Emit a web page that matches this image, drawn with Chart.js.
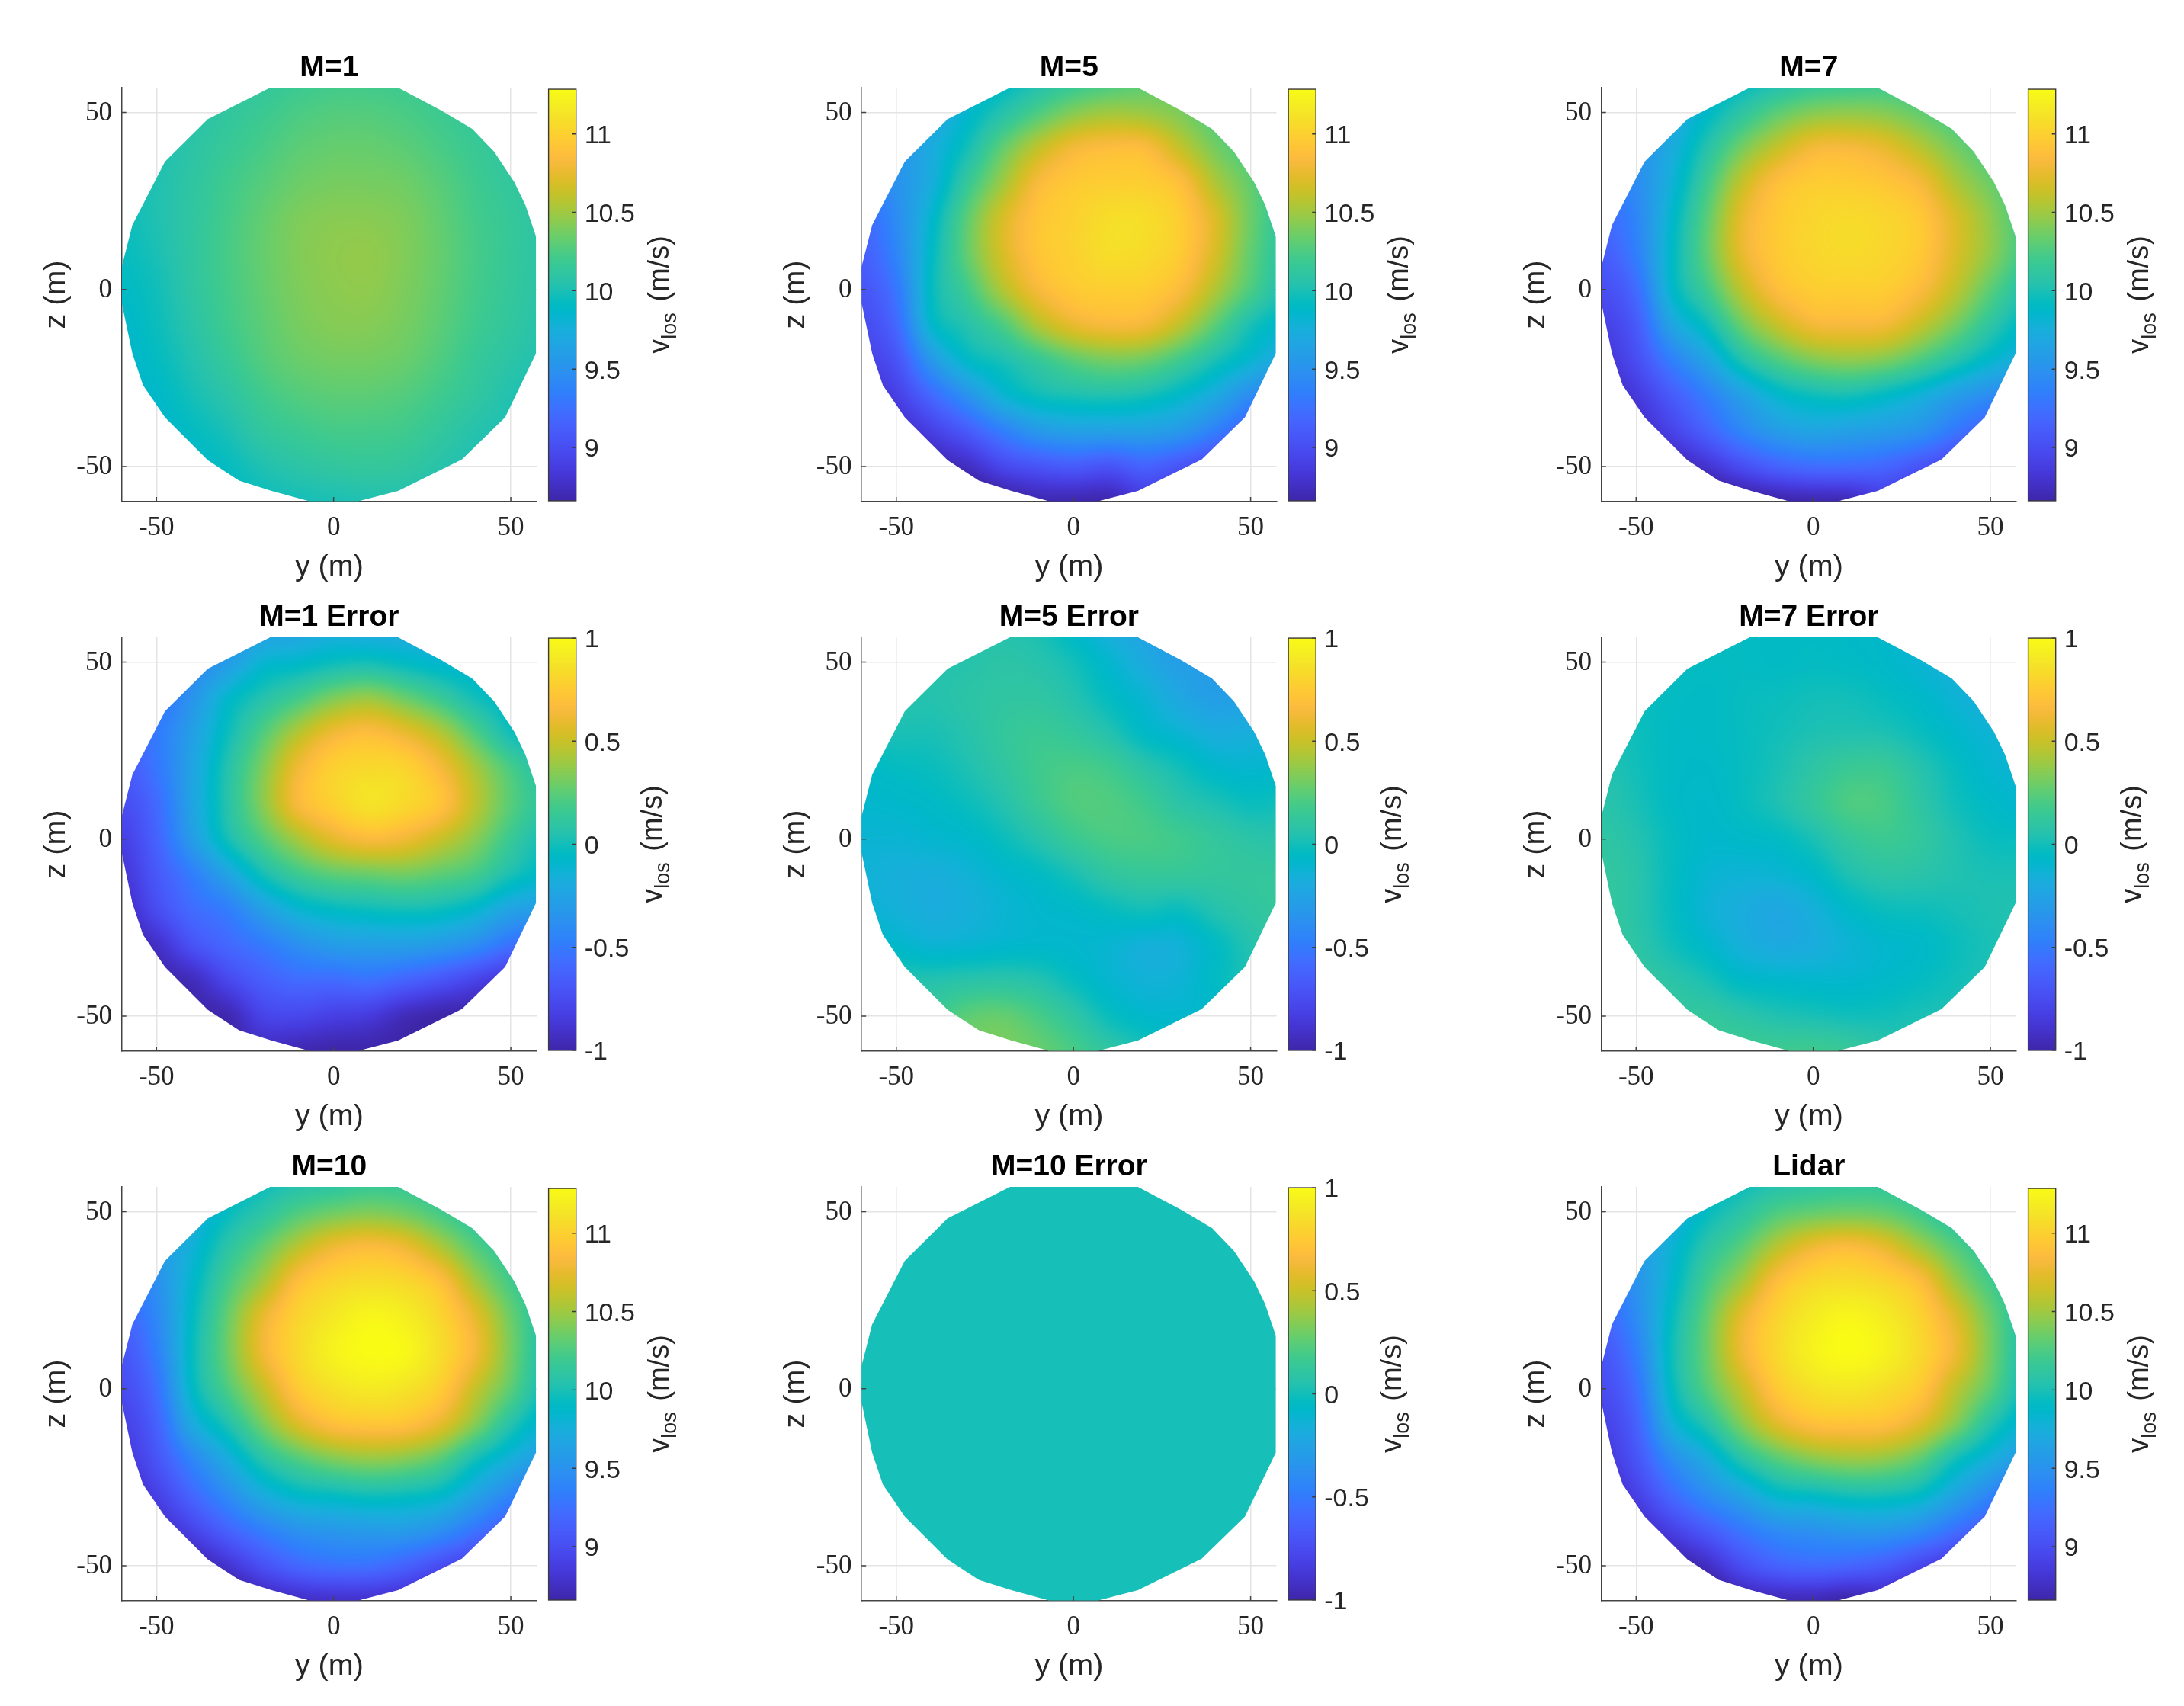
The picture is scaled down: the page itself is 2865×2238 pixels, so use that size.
<!DOCTYPE html>
<html>
<head>
<meta charset="utf-8">
<script src="https://cdn.jsdelivr.net/npm/chart.js@4"></script>
<style>
  html, body { margin: 0; background: #fff; }
  #page { position: relative; width: 2865px; height: 2238px; overflow: hidden; }
  canvas { position: absolute; }
</style>
</head>
<body>
<div id="page"></div>
<script>
// measurement grid, metres
const gridY = [-60, -50, -40, -30, -20, -10, 0, 10, 20, 30, 40, 50, 60];
const gridZ = [60, 50, 40, 30, 20, 10, 0, -10, -20, -30, -40, -50, -60];

// outline of the scanned disc
const rimY = [-17.9, -35.5, -47.6, -56.8, -59.8, -59.8, -56.8, -53.8, -47.6, -35.5, -26.7, -17.5, -6.9, 7, 18.2, 36.2, 48.4, 57.1, 57.1, 54.1, 51, 45.3, 39.1, 30.3, 18.2];
const rimZ = [57, 48.1, 36.1, 18.2, 6.4, -3.8, -18.1, -27, -36.1, -48.2, -54, -56.9, -59.8, -59.8, -56.9, -48, -36.1, -18.1, 15, 23.9, 30.3, 38.9, 45.4, 50.6, 57];

const tickValues = [-50, 0, 50];
const speedTicks = [9, 9.5, 10, 10.5, 11];
const errorTicks = [-1, -0.5, 0, 0.5, 1];
const speedLimits = [8.66, 11.285];
const errorLimits = [-1, 1];

const speedM1 = [
  [9.95,9.98,10.02,10.07,10.12,10.17,10.2,10.2,10.18,10.13,10.08,10.03,10.0],
  [9.95,10.0,10.05,10.12,10.18,10.24,10.27,10.27,10.24,10.19,10.13,10.07,10.02],
  [9.95,10.0,10.08,10.16,10.23,10.3,10.33,10.33,10.3,10.24,10.17,10.1,10.05],
  [9.95,10.02,10.1,10.2,10.28,10.35,10.38,10.38,10.36,10.29,10.2,10.13,10.07],
  [9.95,10.02,10.11,10.22,10.32,10.4,10.43,10.43,10.4,10.32,10.22,10.15,10.08],
  [9.93,10.0,10.11,10.23,10.33,10.41,10.45,10.46,10.41,10.33,10.23,10.15,10.08],
  [9.9,9.97,10.1,10.22,10.32,10.4,10.44,10.45,10.4,10.32,10.22,10.14,10.07],
  [9.87,9.95,10.07,10.2,10.3,10.38,10.42,10.42,10.38,10.3,10.2,10.12,10.05],
  [9.85,9.92,10.03,10.15,10.27,10.34,10.37,10.37,10.34,10.26,10.16,10.08,10.02],
  [9.83,9.88,9.98,10.08,10.2,10.27,10.3,10.3,10.27,10.2,10.12,10.03,9.98],
  [9.82,9.85,9.92,10.0,10.12,10.18,10.22,10.22,10.2,10.13,10.05,10.0,9.95],
  [9.82,9.85,9.88,9.93,10.02,10.08,10.12,10.14,10.12,10.06,10.0,9.96,9.92],
  [9.82,9.85,9.87,9.9,9.95,9.98,10.0,10.02,10.02,9.98,9.95,9.93,9.9]
];
const speedM5 = [
  [9.45,9.55,9.65,9.78,9.87,10.0,10.12,10.2,10.28,10.3,10.2,10.15,10.1],
  [9.4,9.5,9.65,9.85,10.05,10.25,10.42,10.5,10.48,10.4,10.25,10.18,10.1],
  [9.35,9.5,9.72,9.98,10.32,10.6,10.8,10.86,10.85,10.62,10.38,10.22,10.1],
  [9.3,9.5,9.75,10.15,10.5,10.83,10.95,10.98,10.98,10.88,10.55,10.32,10.1],
  [9.2,9.45,9.85,10.3,10.68,10.92,11.0,11.08,11.08,10.97,10.7,10.35,10.1],
  [9.12,9.4,9.9,10.32,10.68,10.92,11.0,11.08,11.06,10.96,10.68,10.32,10.08],
  [9.05,9.3,9.92,10.2,10.55,10.82,10.95,10.98,10.97,10.85,10.55,10.25,10.0],
  [8.98,9.2,9.85,10.05,10.25,10.55,10.75,10.82,10.8,10.6,10.3,10.0,9.85],
  [8.9,9.05,9.55,9.88,10.0,10.15,10.3,10.38,10.35,10.2,10.0,9.82,9.65],
  [8.75,8.9,9.2,9.5,9.8,9.95,10.0,10.02,9.98,9.87,9.7,9.45,9.3],
  [8.6,8.72,8.9,9.1,9.35,9.55,9.62,9.62,9.62,9.55,9.35,9.1,8.9],
  [8.5,8.55,8.65,8.75,8.95,9.05,9.1,9.05,9.15,9.05,8.9,8.7,8.5],
  [8.4,8.4,8.45,8.5,8.6,8.68,8.68,8.68,8.85,8.8,8.65,8.5,8.35]
];
const speedM7 = [
  [9.45,9.55,9.65,9.78,9.88,9.98,10.08,10.12,10.15,10.12,10.08,10.02,9.98],
  [9.4,9.5,9.65,9.88,10.1,10.3,10.42,10.45,10.42,10.32,10.2,10.1,10.02],
  [9.35,9.48,9.72,10.05,10.38,10.62,10.8,10.82,10.75,10.58,10.38,10.22,10.1],
  [9.3,9.45,9.78,10.2,10.62,10.88,10.97,10.97,10.93,10.82,10.55,10.35,10.15],
  [9.2,9.4,9.85,10.3,10.75,10.95,11.03,11.06,11.03,10.95,10.7,10.45,10.22],
  [9.1,9.35,9.88,10.32,10.75,10.95,11.03,11.06,11.03,10.95,10.7,10.45,10.2],
  [9.0,9.22,9.85,10.2,10.6,10.87,10.97,10.98,10.97,10.85,10.6,10.3,10.05],
  [8.9,9.1,9.65,9.95,10.35,10.62,10.8,10.82,10.8,10.62,10.38,10.1,9.88],
  [8.8,9.0,9.35,9.65,10.02,10.25,10.4,10.45,10.4,10.25,10.05,9.85,9.7],
  [8.7,8.85,9.1,9.35,9.62,9.85,9.95,9.98,9.9,9.78,9.6,9.45,9.35],
  [8.6,8.72,8.92,9.15,9.4,9.58,9.65,9.62,9.58,9.5,9.3,9.1,8.95],
  [8.5,8.55,8.65,8.8,9.0,9.15,9.22,9.22,9.18,9.05,8.9,8.75,8.6],
  [8.4,8.4,8.45,8.5,8.58,8.65,8.68,8.7,8.85,8.75,8.65,8.5,8.35]
];
const speedM10 = [
  [9.4,9.5,9.65,9.8,9.92,10.0,10.05,10.12,10.12,10.08,10.02,9.95,9.9],
  [9.4,9.55,9.7,9.92,10.08,10.25,10.35,10.4,10.35,10.22,10.08,10.0,9.95],
  [9.3,9.55,9.78,10.08,10.32,10.58,10.78,10.85,10.78,10.55,10.28,10.1,10.0],
  [9.25,9.48,9.85,10.22,10.52,10.88,11.03,11.08,11.05,10.9,10.52,10.22,10.05],
  [9.15,9.42,9.9,10.33,10.75,11.02,11.16,11.25,11.2,11.04,10.75,10.35,10.05],
  [9.05,9.35,9.92,10.35,10.78,11.05,11.22,11.28,11.26,11.08,10.8,10.38,10.02],
  [8.98,9.25,9.88,10.25,10.6,10.95,11.1,11.16,11.12,10.98,10.62,10.3,9.95],
  [8.9,9.15,9.7,10.02,10.38,10.7,10.88,10.92,10.9,10.74,10.42,10.05,9.8],
  [8.82,9.05,9.4,9.72,10.05,10.26,10.4,10.46,10.42,10.28,9.98,9.75,9.55],
  [8.7,8.9,9.18,9.45,9.72,9.88,9.93,9.97,9.95,9.88,9.65,9.4,9.15],
  [8.6,8.72,8.92,9.15,9.35,9.5,9.55,9.58,9.58,9.48,9.28,9.05,8.8],
  [8.5,8.5,8.62,8.8,9.02,9.18,9.25,9.25,9.15,9.0,8.85,8.65,8.5],
  [8.4,8.4,8.42,8.52,8.68,8.75,8.78,8.78,8.75,8.65,8.52,8.4,8.3]
];
const speedLidar = [
  [9.4,9.5,9.65,9.8,9.92,10.0,10.05,10.1,10.1,10.05,10.0,9.95,9.9],
  [9.4,9.55,9.7,9.92,10.08,10.25,10.32,10.35,10.32,10.2,10.05,10.0,9.95],
  [9.3,9.55,9.8,10.08,10.3,10.58,10.78,10.85,10.75,10.52,10.28,10.1,10.0],
  [9.25,9.5,9.85,10.22,10.52,10.88,11.05,11.08,11.03,10.88,10.5,10.22,10.05],
  [9.15,9.45,9.92,10.33,10.75,11.02,11.18,11.25,11.18,11.02,10.72,10.35,10.05],
  [9.05,9.35,9.95,10.35,10.78,11.05,11.22,11.28,11.22,11.05,10.78,10.38,10.02],
  [8.98,9.25,9.9,10.28,10.62,10.95,11.1,11.14,11.08,10.95,10.6,10.3,9.95],
  [8.9,9.15,9.75,10.05,10.42,10.72,10.88,10.9,10.88,10.72,10.42,10.05,9.8],
  [8.82,9.05,9.45,9.72,10.05,10.28,10.42,10.48,10.45,10.3,9.98,9.75,9.55],
  [8.7,8.9,9.2,9.45,9.65,9.87,9.92,9.98,9.98,9.9,9.65,9.4,9.15],
  [8.6,8.7,8.9,9.1,9.3,9.45,9.5,9.55,9.55,9.45,9.25,9.05,8.8],
  [8.5,8.5,8.6,8.75,9.0,9.15,9.2,9.17,9.1,8.95,8.8,8.65,8.5],
  [8.4,8.4,8.4,8.5,8.65,8.7,8.7,8.65,8.7,8.6,8.5,8.4,8.3]
];
const errorM1 = [
  [-.6,-.55,-.5,-.42,-.3,-.25,-.2,-.22,-.22,-.2,-.2,-.2,-.2],
  [-.6,-.55,-.45,-.3,-.12,-.08,-.02,.0,-.05,-.1,-.12,-.15,-.2],
  [-.65,-.55,-.35,-.1,.05,.18,.32,.38,.28,.15,.0,-.08,-.12],
  [-.65,-.5,-.28,-.02,.22,.45,.62,.68,.6,.45,.22,.0,-.08],
  [-.68,-.52,-.25,.05,.33,.62,.78,.82,.8,.65,.42,.2,.05],
  [-.75,-.58,-.25,.06,.35,.65,.78,.87,.82,.72,.47,.24,.1],
  [-.82,-.62,-.3,.0,.22,.42,.58,.66,.62,.5,.35,.15,.0],
  [-.88,-.68,-.48,-.25,.0,.16,.25,.28,.3,.25,.18,.02,-.08],
  [-.95,-.75,-.58,-.48,-.28,-.12,-.05,-.02,.0,-.02,-.1,-.25,-.3],
  [-1,-.92,-.72,-.6,-.5,-.38,-.3,-.28,-.28,-.32,-.4,-.55,-.65],
  [-1,-1,-.95,-.78,-.65,-.58,-.58,-.55,-.62,-.7,-.8,-.9,-1],
  [-1,-1,-1,-.98,-.8,-.78,-.82,-.85,-.95,-1,-1,-1,-1],
  [-1,-1,-1,-1,-.95,-.98,-1,-1,-1,-1,-1,-1,-1]
];
const errorM5 = [
  [.05,.05,.05,.05,.05,.02,-.08,-.18,-.25,-.3,-.3,-.3,-.3],
  [.05,.05,.05,.06,.08,.06,.0,-.1,-.2,-.28,-.3,-.3,-.25],
  [.05,.05,.05,.08,.1,.1,.05,-.04,-.12,-.22,-.28,-.25,-.2],
  [.0,.02,.02,.06,.12,.15,.12,.05,-.06,-.12,-.18,-.17,-.13],
  [-.06,-.04,-.02,.03,.1,.17,.2,.17,.08,.0,-.08,-.1,-.08],
  [-.09,-.08,-.06,-.02,.05,.15,.22,.22,.17,.08,.03,-.02,.0],
  [-.12,-.12,-.1,-.08,-.02,.06,.15,.2,.2,.17,.12,.08,.06],
  [-.14,-.16,-.17,-.14,-.09,-.05,.02,.1,.13,.13,.12,.12,.12],
  [-.12,-.15,-.18,-.16,-.12,-.09,-.07,-.03,.0,-.02,.05,.1,.13],
  [-.03,-.08,-.12,-.11,-.09,-.08,-.09,-.11,-.15,-.14,-.05,.05,.1],
  [.05,.05,.05,.07,.08,.05,-.03,-.1,-.14,-.13,-.05,.02,.05],
  [.1,.12,.15,.25,.27,.2,.1,-.02,-.08,-.09,-.08,-.05,.0],
  [.15,.2,.25,.3,.32,.28,.2,.1,.02,-.05,-.08,-.08,-.05]
];
const errorM7 = [
  [-.02,-.02,-.03,-.03,-.04,-.05,-.05,-.06,-.08,-.12,-.15,-.15,-.15],
  [-.02,-.02,-.03,-.04,-.04,-.05,-.04,-.05,-.07,-.12,-.16,-.17,-.16],
  [.0,-.02,-.04,-.05,-.03,-.02,.0,.0,-.03,-.07,-.13,-.17,-.16],
  [.02,-.01,-.05,-.05,-.03,.0,.03,.04,.03,-.02,-.08,-.13,-.14],
  [.05,.0,-.05,-.06,-.03,.02,.09,.15,.15,.06,-.03,-.1,-.12],
  [.07,.02,-.05,-.07,-.03,.03,.12,.21,.2,.1,.0,-.06,-.1],
  [.1,.05,-.03,-.08,-.07,-.05,.02,.12,.16,.12,.04,-.02,-.03],
  [.12,.07,-.03,-.11,-.13,-.12,-.07,.03,.08,.07,.04,.02,.02],
  [.13,.07,-.03,-.13,-.18,-.22,-.16,-.07,-.02,-.01,.01,.03,.04],
  [.15,.09,.0,-.08,-.16,-.2,-.18,-.13,-.09,-.07,-.02,.02,.04],
  [.15,.12,.08,.02,-.06,-.08,-.09,-.09,-.07,-.04,.0,.03,.04],
  [.15,.14,.12,.12,.08,.04,.02,.0,.0,.02,.03,.04,.04],
  [.15,.15,.15,.17,.17,.17,.17,.14,.08,.05,.03,.03,.03]
];
const errorM10 = [
  [.01,.01,.01,.01,.01,.01,.01,.01,.01,.01,.01,.01,.01],
  [.01,.01,.01,.01,.01,.01,.01,.01,.01,.01,.01,.01,.01],
  [.01,.01,.01,.01,.01,.01,.01,.01,.01,.01,.01,.01,.01],
  [.01,.01,.01,.01,.01,.01,.01,.01,.01,.01,.01,.01,.01],
  [.01,.01,.01,.01,.01,.01,.01,.01,.01,.01,.01,.01,.01],
  [.01,.01,.01,.01,.01,.01,.01,.01,.01,.01,.01,.01,.01],
  [.01,.01,.01,.01,.01,.01,.01,.01,.01,.01,.01,.01,.01],
  [.01,.01,.01,.01,.01,.01,.01,.01,.01,.01,.01,.01,.01],
  [.01,.01,.01,.01,.01,.01,.01,.01,.01,.01,.01,.01,.01],
  [.01,.01,.01,.01,.01,.01,.01,.01,.01,.01,.01,.01,.01],
  [.01,.01,.01,.01,.01,.01,.01,.01,.01,.01,.01,.01,.01],
  [.01,.01,.01,.01,.01,.01,.01,.01,.01,.01,.01,.01,.01],
  [.01,.01,.01,.01,.01,.01,.01,.01,.01,.01,.01,.01,.01]
];

const panelTitles = ['M=1', 'M=5', 'M=7', 'M=1 Error', 'M=5 Error', 'M=7 Error', 'M=10', 'M=10 Error', 'Lidar'];
const panelGrids = [speedM1, speedM5, speedM7, errorM1, errorM5, errorM7, speedM10, errorM10, speedLidar];
const panelIsError = [false, false, false, true, true, true, false, true, false];

// parula
const parula = [
  [.2422,.1504,.6603],[.2504,.165,.7076],[.2578,.1818,.7511],[.2647,.1978,.7952],[.2706,.2147,.8364],[.2751,.2342,.871],[.2783,.2559,.8991],[.2803,.2782,.9221],
  [.2813,.3006,.9414],[.281,.3228,.9579],[.2795,.3447,.9717],[.276,.3667,.9829],[.2699,.3892,.9906],[.2602,.4123,.9952],[.244,.4358,.9988],[.2206,.4603,.9973],
  [.1963,.4847,.9892],[.1834,.5074,.9798],[.1786,.5289,.9682],[.1764,.5499,.952],[.1687,.5703,.9359],[.154,.5902,.9218],[.146,.6091,.9079],[.138,.6276,.8973],
  [.1248,.6459,.8883],[.1113,.6635,.8763],[.0952,.6798,.8598],[.0689,.6948,.8394],[.0297,.7082,.8163],[.0036,.7203,.7917],[.0067,.7312,.766],[.0433,.7411,.7394],
  [.0964,.75,.712],[.1408,.7584,.6842],[.1717,.767,.6554],[.1938,.7758,.6251],[.2161,.7843,.5923],[.247,.7918,.5567],[.2906,.7973,.5188],[.3406,.8008,.4789],
  [.3909,.8029,.4354],[.4456,.8024,.3909],[.5044,.7993,.348],[.5616,.7942,.3045],[.6174,.7876,.2612],[.672,.7793,.2227],[.7242,.7698,.191],[.7738,.7598,.1646],
  [.8203,.7498,.1535],[.8634,.7406,.1596],[.9035,.733,.1774],[.9393,.7288,.21],[.9728,.7298,.2394],[.9956,.7434,.2371],[.997,.7659,.2199],[.9952,.7893,.2028],
  [.9892,.8136,.1885],[.9786,.8386,.1766],[.9676,.8639,.1643],[.961,.889,.1537],[.9597,.9135,.1423],[.9628,.9373,.1265],[.9691,.9606,.1064],[.9769,.9839,.0805]
];

function colorAt(t) {
  t = Math.min(1, Math.max(0, t)) * 63;
  const i = Math.min(62, Math.floor(t)), f = t - i;
  const a = parula[i], b = parula[i + 1];
  return [0, 1, 2].map(k => 255 * (a[k] + (b[k] - a[k]) * f));
}

function catmull(a, b, c, d, t) {
  return b + 0.5 * t * (c - a + t * (2 * a - 5 * b + 4 * c - d + t * (3 * (b - c) + d - a)));
}

// smooth reading between the grid values, like shading interp
function sampleGrid(grid, y, z) {
  const n = gridY.length;
  const u = Math.min(n - 1.001, Math.max(0, (y - gridY[0]) / (gridY[1] - gridY[0])));
  const w = Math.min(n - 1.001, Math.max(0, (z - gridZ[0]) / (gridZ[1] - gridZ[0])));
  const j = Math.floor(u), i = Math.floor(w);
  const at = (r, c) => grid[Math.min(n - 1, Math.max(0, r))][Math.min(n - 1, Math.max(0, c))];
  const rows = [-1, 0, 1, 2].map(r =>
    catmull(at(i + r, j - 1), at(i + r, j), at(i + r, j + 1), at(i + r, j + 2), u - j));
  return catmull(rows[0], rows[1], rows[2], rows[3], w - i);
}

const serif = '"Liberation Serif", serif';
const sans = '"Liberation Sans", Arial, sans-serif';
const inkColor = '#262626';
const axisColor = '#444444';

const heatPlugin = {
  id: 'heat',
  beforeDatasetsDraw(chart, args, opts) {
    const { ctx, chartArea: area, scales: { x, y } } = chart;
    const w = Math.ceil(area.width), h = Math.ceil(area.height);
    const off = document.createElement('canvas');
    off.width = w; off.height = h;
    const octx = off.getContext('2d');
    const img = octx.createImageData(w, h);
    const [lo, hi] = opts.limits;
    for (let py = 0; py < h; py++) {
      const zv = y.getValueForPixel(area.top + py + 0.5);
      for (let px = 0; px < w; px++) {
        const yv = x.getValueForPixel(area.left + px + 0.5);
        const c = colorAt((sampleGrid(opts.grid, yv, zv) - lo) / (hi - lo));
        const o = (py * w + px) * 4;
        img.data[o] = c[0]; img.data[o + 1] = c[1]; img.data[o + 2] = c[2]; img.data[o + 3] = 255;
      }
    }
    octx.putImageData(img, 0, 0);
    ctx.save();
    ctx.beginPath();
    rimY.forEach((v, i) => {
      const px = x.getPixelForValue(v), py = y.getPixelForValue(rimZ[i]);
      if (i === 0) ctx.moveTo(px, py); else ctx.lineTo(px, py);
    });
    ctx.closePath();
    ctx.clip();
    ctx.drawImage(off, area.left, area.top);
    ctx.restore();
  },
  afterDatasetsDraw(chart, args, opts) {
    const { ctx, chartArea: area, scales: { x, y, cb } } = chart;
    ctx.save();
    // inward ticks on the main axes
    ctx.strokeStyle = axisColor;
    ctx.lineWidth = 1.5;
    ctx.beginPath();
    tickValues.forEach(v => {
      const px = x.getPixelForValue(v), py = y.getPixelForValue(v);
      ctx.moveTo(px, area.bottom); ctx.lineTo(px, area.bottom - 6);
      ctx.moveTo(area.left, py); ctx.lineTo(area.left + 6, py);
    });
    ctx.stroke();

    // colorbar
    const [lo, hi] = opts.limits;
    const barL = area.right + 15.6, barR = area.right + 51.7;
    const top = cb.getPixelForValue(hi), bottom = cb.getPixelForValue(lo);
    for (let py = Math.floor(top); py < bottom; py++) {
      const c = colorAt((cb.getValueForPixel(py + 0.5) - lo) / (hi - lo));
      ctx.fillStyle = `rgb(${c[0]},${c[1]},${c[2]})`;
      ctx.fillRect(barL, py, barR - barL, 1);
    }
    ctx.strokeStyle = '#3a3a3a';
    ctx.lineWidth = 1.4;
    ctx.strokeRect(barL, top, barR - barL, bottom - top);
    ctx.beginPath();
    cb.ticks.forEach(t => {
      const py = cb.getPixelForValue(t.value);
      ctx.moveTo(barR, py); ctx.lineTo(barR - 5, py);
    });
    ctx.stroke();

    // colorbar label with its subscript
    ctx.translate(opts.labelX, (area.top + area.bottom) / 2);
    ctx.rotate(-Math.PI / 2);
    ctx.fillStyle = inkColor;
    ctx.textBaseline = 'alphabetic';
    ctx.textAlign = 'left';
    const big = '38px ' + sans, small = '27px ' + sans;
    ctx.font = big;
    const wV = ctx.measureText('v').width, wU = ctx.measureText(' (m/s)').width;
    ctx.font = small;
    const wS = ctx.measureText('los').width;
    let tx = -(wV + wS + wU) / 2 - 2;
    ctx.font = big;
    ctx.fillText('v', tx, 0);
    tx += wV;
    ctx.font = small;
    ctx.fillText('los', tx, 10);
    tx += wS;
    ctx.font = big;
    ctx.fillText(' (m/s)', tx + 4, 0);
    ctx.restore();
  }
};

const page = document.getElementById('page');
const colLeft = [0, 970, 1941];
const rowTop = [0, 721, 1442];
const colShift = [159.7, 160.2, 159.7];

panelTitles.forEach((title, n) => {
  const col = n % 3, row = Math.floor(n / 3);
  const grid = panelGrids[n];
  const isErr = panelIsError[n];
  const limits = isErr ? errorLimits : speedLimits;
  const ticks = isErr ? errorTicks : speedTicks;
  const canvas = document.createElement('canvas');
  canvas.width = 950; canvas.height = 770;
  canvas.style.left = colLeft[col] + 'px';
  canvas.style.top = rowTop[row] + 'px';
  page.appendChild(canvas);

  const points = [];
  gridZ.forEach((z, i) => gridY.forEach((y, j) => points.push({ x: y, y: z, v: grid[i][j] })));

  new Chart(canvas, {
    type: 'scatter',
    plugins: [heatPlugin],
    data: { datasets: [{ data: points, pointRadius: 0, pointHitRadius: 0 }] },
    options: {
      responsive: false,
      animation: false,
      events: [],
      layout: { padding: 0 },
      plugins: {
        legend: { display: false },
        tooltip: { enabled: false },
        title: {
          display: true,
          text: title,
          fullSize: false,
          color: '#000',
          font: { family: sans, size: 39, weight: 'bold', lineHeight: 1.2 },
          padding: { top: 66, bottom: 2.2 }
        },
        heat: { grid, limits, labelX: isErr ? 868 : 876.5 }
      },
      scales: {
        x: {
          type: 'linear', position: 'bottom', min: -59.8, max: 57.3,
          afterBuildTicks: s => { s.ticks = tickValues.map(v => ({ value: v })); },
          afterFit: s => { s.height = 112; },
          grid: { color: '#e4e4e4', lineWidth: 1.5, drawTicks: false },
          border: { color: axisColor, width: 1.5 },
          ticks: {
            color: inkColor, padding: 14, maxRotation: 0,
            font: { family: serif, size: 35 }, callback: v => String(v)
          },
          title: {
            display: true, text: 'y (m)', color: inkColor,
            font: { family: sans, size: 39.5, lineHeight: 1.2 }, padding: { bottom: 2, top: 0 }
          }
        },
        y: {
          type: 'linear', position: 'left', min: -59.9, max: 57.0,
          afterBuildTicks: s => { s.ticks = tickValues.map(v => ({ value: v })); },
          afterFit: s => { s.width = colShift[col]; },
          grid: { color: '#e4e4e4', lineWidth: 1.5, drawTicks: false },
          border: { color: axisColor, width: 1.5 },
          ticks: {
            color: inkColor, padding: 12.7, labelOffset: 1,
            font: { family: serif, size: 35 }, callback: v => String(v)
          },
          title: {
            display: true, text: 'z (m)', color: inkColor,
            font: { family: sans, size: 39.5, lineHeight: 1.2 }, padding: { top: 50, bottom: 0 }
          }
        },
        cb: {
          type: 'linear', axis: 'y', position: 'right',
          min: isErr ? -1.004 : 8.655, max: isErr ? 1.004 : 11.295,
          afterBuildTicks: s => { s.ticks = ticks.map(v => ({ value: v })); },
          afterFit: s => { s.width = 950 - 704 - (colShift[col] - 159.7); },
          grid: { display: false, drawTicks: false },
          border: { display: false },
          ticks: {
            color: inkColor, padding: 62.7, autoSkip: false, labelOffset: 3,
            font: { family: sans, size: 34 }, callback: v => String(v)
          }
        }
      }
    }
  });
});
</script>
</body>
</html>
